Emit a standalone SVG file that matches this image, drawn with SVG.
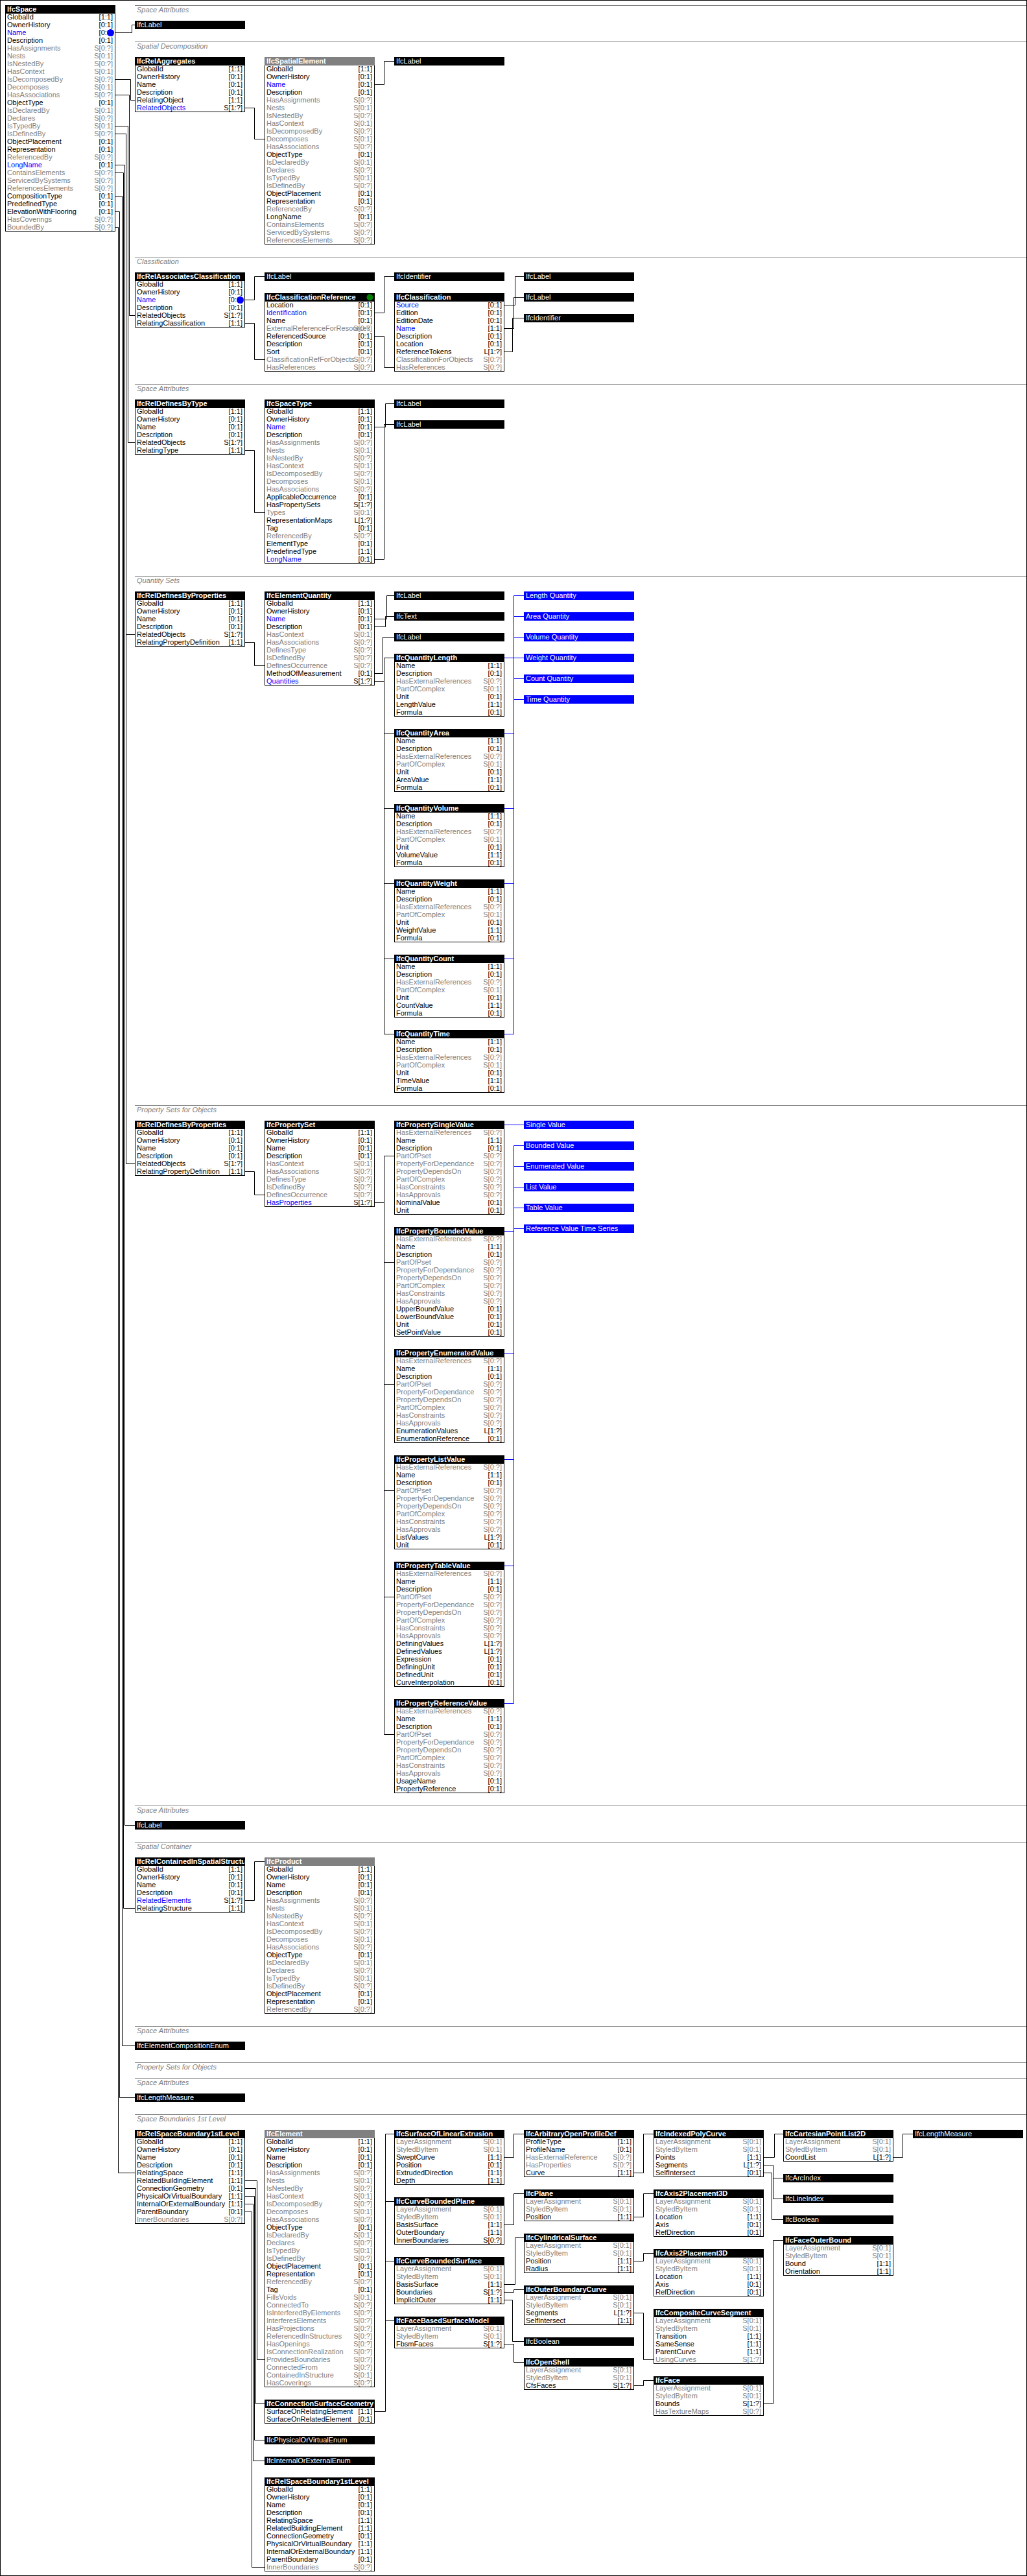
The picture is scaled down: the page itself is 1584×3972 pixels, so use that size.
<svg xmlns="http://www.w3.org/2000/svg" width="1584" height="3972" viewBox="0 0 1584 3972">
<style>
text{font-family:"Liberation Sans",Arial,sans-serif;font-size:11px;fill:#000}
.bx{fill:#fff;stroke:#000;stroke-width:1}
.hd{fill:#000}
.ha{fill:#808080}
.bl{fill:#0000ff}
.ht{fill:#fff;font-weight:bold}
.tt{fill:#fff}
.u{fill:#0000ff}
.g{fill:#808080}
.c{text-anchor:end}
.sl{stroke:#808080;stroke-width:1;fill:none}
.st{fill:#808080;font-style:italic}
#connectors path{fill:none;stroke:#000;stroke-width:1}
#connectors path.b{stroke:#0000ff}
</style>
<defs><clipPath id="clipH"><rect x="0" y="0" width="169" height="13"/></clipPath></defs>
<rect x="0" y="0" width="1584" height="3972" fill="#fff"/>
<rect x="0.5" y="0.5" width="1583" height="3971" fill="none" stroke="#000"/>
<g id="sections">
<path class="sl" d="M208 8.5H1583M208 64.5H1583M208 396.5H1583M208 592.5H1583M208 888.5H1583M208 1704.5H1583M208 2784.5H1583M208 2840.5H1583M208 3124.5H1583M208 3180.5H1583M208 3204.5H1583M208 3260.5H1583"/>
<text class="st" x="211" y="19">Space Attributes</text>
<text class="st" x="211" y="75">Spatial Decomposition</text>
<text class="st" x="211" y="407">Classification</text>
<text class="st" x="211" y="603">Space Attributes</text>
<text class="st" x="211" y="899">Quantity Sets</text>
<text class="st" x="211" y="1715">Property Sets for Objects</text>
<text class="st" x="211" y="2795">Space Attributes</text>
<text class="st" x="211" y="2851">Spatial Container</text>
<text class="st" x="211" y="3135">Space Attributes</text>
<text class="st" x="211" y="3191">Property Sets for Objects</text>
<text class="st" x="211" y="3215">Space Attributes</text>
<text class="st" x="211" y="3271">Space Boundaries 1st Level</text>
</g>
<g id="connectors">
<path d="M178 50.5H203.5V38.5H208"/>
<path d="M178 122.5H201.5V154.5H208"/>
<path d="M178 146.5H199.5V486.5H208"/>
<path d="M178 194.5H197.5V682.5H208"/>
<path d="M178 206.5H194.5V1794.5H208M194.5 978.5H208"/>
<path d="M178 254.5H192.5V2814.5H208"/>
<path d="M178 266.5H190.5V2942.5H208"/>
<path d="M178 302.5H188.5V3154.5H208"/>
<path d="M178 326.5H184.5V3234.5H208"/>
<path d="M178 350.5H182.5V3350.5H208"/>
<path d="M378 166.5H392.5V214.5H408"/>
<path d="M578 130.5H592.5V94.5H608"/>
<path d="M378 462.5H392.5V426.5H408"/>
<path d="M378 498.5H392.5V554.5H408"/>
<path d="M578 482.5H592.5V426.5H608"/>
<path d="M578 518.5H592.5V566.5H608"/>
<path d="M778 470.5H794.5V426.5H808"/>
<path d="M778 506.5H792.5V458.5H808"/>
<path d="M778 542.5H790.5V490.5H808"/>
<path d="M378 694.5H392.5V790.5H408"/>
<path d="M578 658.5H594.5V622.5H608"/>
<path d="M578 862.5H592.5V654.5H608"/>
<path d="M378 990.5H392.5V1026.5H408"/>
<path d="M578 954.5H596.5V918.5H608"/>
<path d="M578 966.5H594.5V950.5H608"/>
<path d="M578 1038.5H590.5V982.5H608"/>
<path d="M578 1050.5H592.5M592.5 1014.5V1594.5M592.5 1014.5H608M592.5 1130.5H608M592.5 1246.5H608M592.5 1362.5H608M592.5 1478.5H608M592.5 1594.5H608"/>
<path class="b" d="M792.5 918.5V1594.5M792.5 918.5H808M792.5 950.5H808M792.5 982.5H808M778 1014.5H808M792.5 1046.5H808M792.5 1078.5H808M778 1130.5H792.5M778 1246.5H792.5M778 1362.5H792.5M778 1478.5H792.5M778 1594.5H792.5"/>
<path d="M378 1806.5H392.5V1842.5H408"/>
<path d="M578 1854.5H592.5M592.5 1782.5V2674.5M592.5 1782.5H608M592.5 1946.5H608M592.5 2134.5H608M592.5 2298.5H608M592.5 2462.5H608M592.5 2674.5H608"/>
<path class="b" d="M778 1734.5H808M792.5 1766.5V2626.5M792.5 1766.5H808M792.5 1798.5H808M792.5 1830.5H808M792.5 1862.5H808M792.5 1894.5H808M778 1898.5H792.5M778 2086.5H792.5M778 2250.5H792.5M778 2414.5H792.5M778 2626.5H792.5"/>
<path d="M378 2930.5H392.5V2870.5H408"/>
<path d="M378 3362.5H396.5V3638.5H408"/>
<path d="M378 3374.5H394.5V3706.5H408"/>
<path d="M378 3386.5H392.5V3762.5H408"/>
<path d="M378 3398.5H390.5V3794.5H408"/>
<path d="M378 3410.5H388.5V3958.5H408"/>
<path d="M578 3718.5H594.5V3290.5H608M594.5 3394.5H608M594.5 3486.5H608M594.5 3578.5H608"/>
<path d="M778 3326.5H792.5V3290.5H808"/>
<path d="M778 3430.5H792.5V3382.5H808"/>
<path d="M778 3522.5H794.5V3450.5H808"/>
<path d="M778 3534.5H792.5V3530.5H808"/>
<path d="M778 3546.5H790.5V3610.5H808"/>
<path d="M778 3614.5H792.5V3642.5H808"/>
<path d="M978 3350.5H992.5V3290.5H1008"/>
<path d="M978 3418.5H992.5V3382.5H1008"/>
<path d="M978 3486.5H992.5V3474.5H1008"/>
<path d="M978 3566.5H992.5V3638.5H1008"/>
<path d="M978 3678.5H992.5V3670.5H1008"/>
<path d="M1178 3326.5H1194.5V3290.5H1208"/>
<path d="M1178 3338.5H1192.5V3390.5H1208M1192.5 3358.5H1208"/>
<path d="M1178 3350.5H1190.5V3422.5H1208"/>
<path d="M1178 3706.5H1192.5V3454.5H1208"/>
<path d="M1378 3326.5H1392.5V3290.5H1408"/>
</g>

<g id="IfcSpace" transform="translate(8,8)"><rect class="bx" x="0.5" y="0.5" width="169" height="348"/><rect class="hd" width="170" height="13"/><text class="ht" x="3" y="10">IfcSpace</text>
<text x="3" y="22">GlobalId</text><text class="c" x="166" y="22">[1:1]</text>
<text x="3" y="34">OwnerHistory</text><text class="c" x="166" y="34">[0:1]</text>
<text class="u" x="3" y="46">Name</text><text class="c" x="166" y="46">[0:1]</text>
<text x="3" y="58">Description</text><text class="c" x="166" y="58">[0:1]</text>
<text class="g" x="3" y="70">HasAssignments</text><text class="g c" x="166" y="70">S[0:?]</text>
<text class="g" x="3" y="82">Nests</text><text class="g c" x="166" y="82">S[0:1]</text>
<text class="g" x="3" y="94">IsNestedBy</text><text class="g c" x="166" y="94">S[0:?]</text>
<text class="g" x="3" y="106">HasContext</text><text class="g c" x="166" y="106">S[0:1]</text>
<text class="g" x="3" y="118">IsDecomposedBy</text><text class="g c" x="166" y="118">S[0:?]</text>
<text class="g" x="3" y="130">Decomposes</text><text class="g c" x="166" y="130">S[0:1]</text>
<text class="g" x="3" y="142">HasAssociations</text><text class="g c" x="166" y="142">S[0:?]</text>
<text x="3" y="154">ObjectType</text><text class="c" x="166" y="154">[0:1]</text>
<text class="g" x="3" y="166">IsDeclaredBy</text><text class="g c" x="166" y="166">S[0:1]</text>
<text class="g" x="3" y="178">Declares</text><text class="g c" x="166" y="178">S[0:?]</text>
<text class="g" x="3" y="190">IsTypedBy</text><text class="g c" x="166" y="190">S[0:1]</text>
<text class="g" x="3" y="202">IsDefinedBy</text><text class="g c" x="166" y="202">S[0:?]</text>
<text x="3" y="214">ObjectPlacement</text><text class="c" x="166" y="214">[0:1]</text>
<text x="3" y="226">Representation</text><text class="c" x="166" y="226">[0:1]</text>
<text class="g" x="3" y="238">ReferencedBy</text><text class="g c" x="166" y="238">S[0:?]</text>
<text class="u" x="3" y="250">LongName</text><text class="c" x="166" y="250">[0:1]</text>
<text class="g" x="3" y="262">ContainsElements</text><text class="g c" x="166" y="262">S[0:?]</text>
<text class="g" x="3" y="274">ServicedBySystems</text><text class="g c" x="166" y="274">S[0:?]</text>
<text class="g" x="3" y="286">ReferencesElements</text><text class="g c" x="166" y="286">S[0:?]</text>
<text x="3" y="298">CompositionType</text><text class="c" x="166" y="298">[0:1]</text>
<text x="3" y="310">PredefinedType</text><text class="c" x="166" y="310">[0:1]</text>
<text x="3" y="322">ElevationWithFlooring</text><text class="c" x="166" y="322">[0:1]</text>
<text class="g" x="3" y="334">HasCoverings</text><text class="g c" x="166" y="334">S[0:?]</text>
<text class="g" x="3" y="346">BoundedBy</text><text class="g c" x="166" y="346">S[0:?]</text>
<circle cx="162.5" cy="42.5" r="5.5" fill="#0000ff"/>
</g>

<g id="s1-IfcLabel" transform="translate(208,32)"><rect class="hd" width="170" height="13"/><text class="tt" x="3" y="10">IfcLabel</text></g>

<g id="s2-IfcRelAggregates" transform="translate(208,88)"><rect class="bx" x="0.5" y="0.5" width="169" height="84"/><rect class="hd" width="170" height="13"/><text class="ht" x="3" y="10">IfcRelAggregates</text>
<text x="3" y="22">GlobalId</text><text class="c" x="166" y="22">[1:1]</text>
<text x="3" y="34">OwnerHistory</text><text class="c" x="166" y="34">[0:1]</text>
<text x="3" y="46">Name</text><text class="c" x="166" y="46">[0:1]</text>
<text x="3" y="58">Description</text><text class="c" x="166" y="58">[0:1]</text>
<text x="3" y="70">RelatingObject</text><text class="c" x="166" y="70">[1:1]</text>
<text class="u" x="3" y="82">RelatedObjects</text><text class="c" x="166" y="82">S[1:?]</text>
</g>

<g id="s2-IfcSpatialElement" transform="translate(408,88)"><rect class="bx" x="0.5" y="0.5" width="169" height="288"/><rect class="ha" width="170" height="13"/><text class="ht" x="3" y="10">IfcSpatialElement</text>
<text x="3" y="22">GlobalId</text><text class="c" x="166" y="22">[1:1]</text>
<text x="3" y="34">OwnerHistory</text><text class="c" x="166" y="34">[0:1]</text>
<text class="u" x="3" y="46">Name</text><text class="c" x="166" y="46">[0:1]</text>
<text x="3" y="58">Description</text><text class="c" x="166" y="58">[0:1]</text>
<text class="g" x="3" y="70">HasAssignments</text><text class="g c" x="166" y="70">S[0:?]</text>
<text class="g" x="3" y="82">Nests</text><text class="g c" x="166" y="82">S[0:1]</text>
<text class="g" x="3" y="94">IsNestedBy</text><text class="g c" x="166" y="94">S[0:?]</text>
<text class="g" x="3" y="106">HasContext</text><text class="g c" x="166" y="106">S[0:1]</text>
<text class="g" x="3" y="118">IsDecomposedBy</text><text class="g c" x="166" y="118">S[0:?]</text>
<text class="g" x="3" y="130">Decomposes</text><text class="g c" x="166" y="130">S[0:1]</text>
<text class="g" x="3" y="142">HasAssociations</text><text class="g c" x="166" y="142">S[0:?]</text>
<text x="3" y="154">ObjectType</text><text class="c" x="166" y="154">[0:1]</text>
<text class="g" x="3" y="166">IsDeclaredBy</text><text class="g c" x="166" y="166">S[0:1]</text>
<text class="g" x="3" y="178">Declares</text><text class="g c" x="166" y="178">S[0:?]</text>
<text class="g" x="3" y="190">IsTypedBy</text><text class="g c" x="166" y="190">S[0:1]</text>
<text class="g" x="3" y="202">IsDefinedBy</text><text class="g c" x="166" y="202">S[0:?]</text>
<text x="3" y="214">ObjectPlacement</text><text class="c" x="166" y="214">[0:1]</text>
<text x="3" y="226">Representation</text><text class="c" x="166" y="226">[0:1]</text>
<text class="g" x="3" y="238">ReferencedBy</text><text class="g c" x="166" y="238">S[0:?]</text>
<text x="3" y="250">LongName</text><text class="c" x="166" y="250">[0:1]</text>
<text class="g" x="3" y="262">ContainsElements</text><text class="g c" x="166" y="262">S[0:?]</text>
<text class="g" x="3" y="274">ServicedBySystems</text><text class="g c" x="166" y="274">S[0:?]</text>
<text class="g" x="3" y="286">ReferencesElements</text><text class="g c" x="166" y="286">S[0:?]</text>
</g>

<g id="s2-IfcLabel" transform="translate(608,88)"><rect class="hd" width="170" height="13"/><text class="tt" x="3" y="10">IfcLabel</text></g>

<g id="s3-IfcRelAssociatesClassification" transform="translate(208,420)"><rect class="bx" x="0.5" y="0.5" width="169" height="84"/><rect class="hd" width="170" height="13"/><text class="ht" x="3" y="10">IfcRelAssociatesClassification</text>
<text x="3" y="22">GlobalId</text><text class="c" x="166" y="22">[1:1]</text>
<text x="3" y="34">OwnerHistory</text><text class="c" x="166" y="34">[0:1]</text>
<text class="u" x="3" y="46">Name</text><text class="c" x="166" y="46">[0:1]</text>
<text x="3" y="58">Description</text><text class="c" x="166" y="58">[0:1]</text>
<text x="3" y="70">RelatedObjects</text><text class="c" x="166" y="70">S[1:?]</text>
<text x="3" y="82">RelatingClassification</text><text class="c" x="166" y="82">[1:1]</text>
<circle cx="162.5" cy="42.5" r="5.5" fill="#0000ff"/>
</g>

<g id="s3-IfcLabel" transform="translate(408,420)"><rect class="hd" width="170" height="13"/><text class="tt" x="3" y="10">IfcLabel</text></g>

<g id="s3-IfcClassificationReference" transform="translate(408,452)"><rect class="bx" x="0.5" y="0.5" width="169" height="120"/><rect class="hd" width="170" height="13"/><text class="ht" x="3" y="10">IfcClassificationReference</text><circle cx="162.5" cy="6.5" r="5" fill="#008000"/>
<text x="3" y="22">Location</text><text class="c" x="166" y="22">[0:1]</text>
<text class="u" x="3" y="34">Identification</text><text class="c" x="166" y="34">[0:1]</text>
<text x="3" y="46">Name</text><text class="c" x="166" y="46">[0:1]</text>
<text class="g" x="3" y="58">ExternalReferenceForResources</text><text class="g c" x="166" y="58">S[0:?]</text>
<text x="3" y="70">ReferencedSource</text><text class="c" x="166" y="70">[0:1]</text>
<text x="3" y="82">Description</text><text class="c" x="166" y="82">[0:1]</text>
<text x="3" y="94">Sort</text><text class="c" x="166" y="94">[0:1]</text>
<text class="g" x="3" y="106">ClassificationRefForObjects</text><text class="g c" x="166" y="106">S[0:?]</text>
<text class="g" x="3" y="118">HasReferences</text><text class="g c" x="166" y="118">S[0:?]</text>
</g>

<g id="s3-IfcIdentifier" transform="translate(608,420)"><rect class="hd" width="170" height="13"/><text class="tt" x="3" y="10">IfcIdentifier</text></g>

<g id="s3-IfcClassification" transform="translate(608,452)"><rect class="bx" x="0.5" y="0.5" width="169" height="120"/><rect class="hd" width="170" height="13"/><text class="ht" x="3" y="10">IfcClassification</text>
<text class="u" x="3" y="22">Source</text><text class="c" x="166" y="22">[0:1]</text>
<text x="3" y="34">Edition</text><text class="c" x="166" y="34">[0:1]</text>
<text x="3" y="46">EditionDate</text><text class="c" x="166" y="46">[0:1]</text>
<text class="u" x="3" y="58">Name</text><text class="c" x="166" y="58">[1:1]</text>
<text x="3" y="70">Description</text><text class="c" x="166" y="70">[0:1]</text>
<text x="3" y="82">Location</text><text class="c" x="166" y="82">[0:1]</text>
<text x="3" y="94">ReferenceTokens</text><text class="c" x="166" y="94">L[1:?]</text>
<text class="g" x="3" y="106">ClassificationForObjects</text><text class="g c" x="166" y="106">S[0:?]</text>
<text class="g" x="3" y="118">HasReferences</text><text class="g c" x="166" y="118">S[0:?]</text>
</g>

<g id="s3-IfcLabel-a" transform="translate(808,420)"><rect class="hd" width="170" height="13"/><text class="tt" x="3" y="10">IfcLabel</text></g>
<g id="s3-IfcLabel-b" transform="translate(808,452)"><rect class="hd" width="170" height="13"/><text class="tt" x="3" y="10">IfcLabel</text></g>
<g id="s3-IfcIdentifier-b" transform="translate(808,484)"><rect class="hd" width="170" height="13"/><text class="tt" x="3" y="10">IfcIdentifier</text></g>

<g id="s4-IfcRelDefinesByType" transform="translate(208,616)"><rect class="bx" x="0.5" y="0.5" width="169" height="84"/><rect class="hd" width="170" height="13"/><text class="ht" x="3" y="10">IfcRelDefinesByType</text>
<text x="3" y="22">GlobalId</text><text class="c" x="166" y="22">[1:1]</text>
<text x="3" y="34">OwnerHistory</text><text class="c" x="166" y="34">[0:1]</text>
<text x="3" y="46">Name</text><text class="c" x="166" y="46">[0:1]</text>
<text x="3" y="58">Description</text><text class="c" x="166" y="58">[0:1]</text>
<text x="3" y="70">RelatedObjects</text><text class="c" x="166" y="70">S[1:?]</text>
<text x="3" y="82">RelatingType</text><text class="c" x="166" y="82">[1:1]</text>
</g>

<g id="s4-IfcSpaceType" transform="translate(408,616)"><rect class="bx" x="0.5" y="0.5" width="169" height="252"/><rect class="hd" width="170" height="13"/><text class="ht" x="3" y="10">IfcSpaceType</text>
<text x="3" y="22">GlobalId</text><text class="c" x="166" y="22">[1:1]</text>
<text x="3" y="34">OwnerHistory</text><text class="c" x="166" y="34">[0:1]</text>
<text class="u" x="3" y="46">Name</text><text class="c" x="166" y="46">[0:1]</text>
<text x="3" y="58">Description</text><text class="c" x="166" y="58">[0:1]</text>
<text class="g" x="3" y="70">HasAssignments</text><text class="g c" x="166" y="70">S[0:?]</text>
<text class="g" x="3" y="82">Nests</text><text class="g c" x="166" y="82">S[0:1]</text>
<text class="g" x="3" y="94">IsNestedBy</text><text class="g c" x="166" y="94">S[0:?]</text>
<text class="g" x="3" y="106">HasContext</text><text class="g c" x="166" y="106">S[0:1]</text>
<text class="g" x="3" y="118">IsDecomposedBy</text><text class="g c" x="166" y="118">S[0:?]</text>
<text class="g" x="3" y="130">Decomposes</text><text class="g c" x="166" y="130">S[0:1]</text>
<text class="g" x="3" y="142">HasAssociations</text><text class="g c" x="166" y="142">S[0:?]</text>
<text x="3" y="154">ApplicableOccurrence</text><text class="c" x="166" y="154">[0:1]</text>
<text x="3" y="166">HasPropertySets</text><text class="c" x="166" y="166">S[1:?]</text>
<text class="g" x="3" y="178">Types</text><text class="g c" x="166" y="178">S[0:1]</text>
<text x="3" y="190">RepresentationMaps</text><text class="c" x="166" y="190">L[1:?]</text>
<text x="3" y="202">Tag</text><text class="c" x="166" y="202">[0:1]</text>
<text class="g" x="3" y="214">ReferencedBy</text><text class="g c" x="166" y="214">S[0:?]</text>
<text x="3" y="226">ElementType</text><text class="c" x="166" y="226">[0:1]</text>
<text x="3" y="238">PredefinedType</text><text class="c" x="166" y="238">[1:1]</text>
<text class="u" x="3" y="250">LongName</text><text class="c" x="166" y="250">[0:1]</text>
</g>

<g id="s4-IfcLabel-a" transform="translate(608,616)"><rect class="hd" width="170" height="13"/><text class="tt" x="3" y="10">IfcLabel</text></g>
<g id="s4-IfcLabel-b" transform="translate(608,648)"><rect class="hd" width="170" height="13"/><text class="tt" x="3" y="10">IfcLabel</text></g>

<g id="s5-IfcRelDefinesByProperties" transform="translate(208,912)"><rect class="bx" x="0.5" y="0.5" width="169" height="84"/><rect class="hd" width="170" height="13"/><text class="ht" x="3" y="10">IfcRelDefinesByProperties</text>
<text x="3" y="22">GlobalId</text><text class="c" x="166" y="22">[1:1]</text>
<text x="3" y="34">OwnerHistory</text><text class="c" x="166" y="34">[0:1]</text>
<text x="3" y="46">Name</text><text class="c" x="166" y="46">[0:1]</text>
<text x="3" y="58">Description</text><text class="c" x="166" y="58">[0:1]</text>
<text x="3" y="70">RelatedObjects</text><text class="c" x="166" y="70">S[1:?]</text>
<text x="3" y="82">RelatingPropertyDefinition</text><text class="c" x="166" y="82">[1:1]</text>
</g>

<g id="s5-IfcElementQuantity" transform="translate(408,912)"><rect class="bx" x="0.5" y="0.5" width="169" height="144"/><rect class="hd" width="170" height="13"/><text class="ht" x="3" y="10">IfcElementQuantity</text>
<text x="3" y="22">GlobalId</text><text class="c" x="166" y="22">[1:1]</text>
<text x="3" y="34">OwnerHistory</text><text class="c" x="166" y="34">[0:1]</text>
<text class="u" x="3" y="46">Name</text><text class="c" x="166" y="46">[0:1]</text>
<text x="3" y="58">Description</text><text class="c" x="166" y="58">[0:1]</text>
<text class="g" x="3" y="70">HasContext</text><text class="g c" x="166" y="70">S[0:1]</text>
<text class="g" x="3" y="82">HasAssociations</text><text class="g c" x="166" y="82">S[0:?]</text>
<text class="g" x="3" y="94">DefinesType</text><text class="g c" x="166" y="94">S[0:?]</text>
<text class="g" x="3" y="106">IsDefinedBy</text><text class="g c" x="166" y="106">S[0:?]</text>
<text class="g" x="3" y="118">DefinesOccurrence</text><text class="g c" x="166" y="118">S[0:?]</text>
<text x="3" y="130">MethodOfMeasurement</text><text class="c" x="166" y="130">[0:1]</text>
<text class="u" x="3" y="142">Quantities</text><text class="c" x="166" y="142">S[1:?]</text>
</g>

<g id="s5-IfcLabel-a" transform="translate(608,912)"><rect class="hd" width="170" height="13"/><text class="tt" x="3" y="10">IfcLabel</text></g>
<g id="s5-IfcText" transform="translate(608,944)"><rect class="hd" width="170" height="13"/><text class="tt" x="3" y="10">IfcText</text></g>
<g id="s5-IfcLabel-b" transform="translate(608,976)"><rect class="hd" width="170" height="13"/><text class="tt" x="3" y="10">IfcLabel</text></g>

<g id="s5-IfcQuantityLength" transform="translate(608,1008)"><rect class="bx" x="0.5" y="0.5" width="169" height="96"/><rect class="hd" width="170" height="13"/><text class="ht" x="3" y="10">IfcQuantityLength</text>
<text x="3" y="22">Name</text><text class="c" x="166" y="22">[1:1]</text>
<text x="3" y="34">Description</text><text class="c" x="166" y="34">[0:1]</text>
<text class="g" x="3" y="46">HasExternalReferences</text><text class="g c" x="166" y="46">S[0:?]</text>
<text class="g" x="3" y="58">PartOfComplex</text><text class="g c" x="166" y="58">S[0:1]</text>
<text x="3" y="70">Unit</text><text class="c" x="166" y="70">[0:1]</text>
<text x="3" y="82">LengthValue</text><text class="c" x="166" y="82">[1:1]</text>
<text x="3" y="94">Formula</text><text class="c" x="166" y="94">[0:1]</text>
</g>
<g id="s5-IfcQuantityArea" transform="translate(608,1124)"><rect class="bx" x="0.5" y="0.5" width="169" height="96"/><rect class="hd" width="170" height="13"/><text class="ht" x="3" y="10">IfcQuantityArea</text>
<text x="3" y="22">Name</text><text class="c" x="166" y="22">[1:1]</text>
<text x="3" y="34">Description</text><text class="c" x="166" y="34">[0:1]</text>
<text class="g" x="3" y="46">HasExternalReferences</text><text class="g c" x="166" y="46">S[0:?]</text>
<text class="g" x="3" y="58">PartOfComplex</text><text class="g c" x="166" y="58">S[0:1]</text>
<text x="3" y="70">Unit</text><text class="c" x="166" y="70">[0:1]</text>
<text x="3" y="82">AreaValue</text><text class="c" x="166" y="82">[1:1]</text>
<text x="3" y="94">Formula</text><text class="c" x="166" y="94">[0:1]</text>
</g>
<g id="s5-IfcQuantityVolume" transform="translate(608,1240)"><rect class="bx" x="0.5" y="0.5" width="169" height="96"/><rect class="hd" width="170" height="13"/><text class="ht" x="3" y="10">IfcQuantityVolume</text>
<text x="3" y="22">Name</text><text class="c" x="166" y="22">[1:1]</text>
<text x="3" y="34">Description</text><text class="c" x="166" y="34">[0:1]</text>
<text class="g" x="3" y="46">HasExternalReferences</text><text class="g c" x="166" y="46">S[0:?]</text>
<text class="g" x="3" y="58">PartOfComplex</text><text class="g c" x="166" y="58">S[0:1]</text>
<text x="3" y="70">Unit</text><text class="c" x="166" y="70">[0:1]</text>
<text x="3" y="82">VolumeValue</text><text class="c" x="166" y="82">[1:1]</text>
<text x="3" y="94">Formula</text><text class="c" x="166" y="94">[0:1]</text>
</g>
<g id="s5-IfcQuantityWeight" transform="translate(608,1356)"><rect class="bx" x="0.5" y="0.5" width="169" height="96"/><rect class="hd" width="170" height="13"/><text class="ht" x="3" y="10">IfcQuantityWeight</text>
<text x="3" y="22">Name</text><text class="c" x="166" y="22">[1:1]</text>
<text x="3" y="34">Description</text><text class="c" x="166" y="34">[0:1]</text>
<text class="g" x="3" y="46">HasExternalReferences</text><text class="g c" x="166" y="46">S[0:?]</text>
<text class="g" x="3" y="58">PartOfComplex</text><text class="g c" x="166" y="58">S[0:1]</text>
<text x="3" y="70">Unit</text><text class="c" x="166" y="70">[0:1]</text>
<text x="3" y="82">WeightValue</text><text class="c" x="166" y="82">[1:1]</text>
<text x="3" y="94">Formula</text><text class="c" x="166" y="94">[0:1]</text>
</g>
<g id="s5-IfcQuantityCount" transform="translate(608,1472)"><rect class="bx" x="0.5" y="0.5" width="169" height="96"/><rect class="hd" width="170" height="13"/><text class="ht" x="3" y="10">IfcQuantityCount</text>
<text x="3" y="22">Name</text><text class="c" x="166" y="22">[1:1]</text>
<text x="3" y="34">Description</text><text class="c" x="166" y="34">[0:1]</text>
<text class="g" x="3" y="46">HasExternalReferences</text><text class="g c" x="166" y="46">S[0:?]</text>
<text class="g" x="3" y="58">PartOfComplex</text><text class="g c" x="166" y="58">S[0:1]</text>
<text x="3" y="70">Unit</text><text class="c" x="166" y="70">[0:1]</text>
<text x="3" y="82">CountValue</text><text class="c" x="166" y="82">[1:1]</text>
<text x="3" y="94">Formula</text><text class="c" x="166" y="94">[0:1]</text>
</g>
<g id="s5-IfcQuantityTime" transform="translate(608,1588)"><rect class="bx" x="0.5" y="0.5" width="169" height="96"/><rect class="hd" width="170" height="13"/><text class="ht" x="3" y="10">IfcQuantityTime</text>
<text x="3" y="22">Name</text><text class="c" x="166" y="22">[1:1]</text>
<text x="3" y="34">Description</text><text class="c" x="166" y="34">[0:1]</text>
<text class="g" x="3" y="46">HasExternalReferences</text><text class="g c" x="166" y="46">S[0:?]</text>
<text class="g" x="3" y="58">PartOfComplex</text><text class="g c" x="166" y="58">S[0:1]</text>
<text x="3" y="70">Unit</text><text class="c" x="166" y="70">[0:1]</text>
<text x="3" y="82">TimeValue</text><text class="c" x="166" y="82">[1:1]</text>
<text x="3" y="94">Formula</text><text class="c" x="166" y="94">[0:1]</text>
</g>

<g id="s5-LengthQuantity" transform="translate(808,912)"><rect class="bl" width="170" height="13"/><text class="tt" x="3" y="10">Length Quantity</text></g>
<g id="s5-AreaQuantity" transform="translate(808,944)"><rect class="bl" width="170" height="13"/><text class="tt" x="3" y="10">Area Quantity</text></g>
<g id="s5-VolumeQuantity" transform="translate(808,976)"><rect class="bl" width="170" height="13"/><text class="tt" x="3" y="10">Volume Quantity</text></g>
<g id="s5-WeightQuantity" transform="translate(808,1008)"><rect class="bl" width="170" height="13"/><text class="tt" x="3" y="10">Weight Quantity</text></g>
<g id="s5-CountQuantity" transform="translate(808,1040)"><rect class="bl" width="170" height="13"/><text class="tt" x="3" y="10">Count Quantity</text></g>
<g id="s5-TimeQuantity" transform="translate(808,1072)"><rect class="bl" width="170" height="13"/><text class="tt" x="3" y="10">Time Quantity</text></g>

<g id="s6-IfcRelDefinesByProperties" transform="translate(208,1728)"><rect class="bx" x="0.5" y="0.5" width="169" height="84"/><rect class="hd" width="170" height="13"/><text class="ht" x="3" y="10">IfcRelDefinesByProperties</text>
<text x="3" y="22">GlobalId</text><text class="c" x="166" y="22">[1:1]</text>
<text x="3" y="34">OwnerHistory</text><text class="c" x="166" y="34">[0:1]</text>
<text x="3" y="46">Name</text><text class="c" x="166" y="46">[0:1]</text>
<text x="3" y="58">Description</text><text class="c" x="166" y="58">[0:1]</text>
<text x="3" y="70">RelatedObjects</text><text class="c" x="166" y="70">S[1:?]</text>
<text x="3" y="82">RelatingPropertyDefinition</text><text class="c" x="166" y="82">[1:1]</text>
</g>

<g id="s6-IfcPropertySet" transform="translate(408,1728)"><rect class="bx" x="0.5" y="0.5" width="169" height="132"/><rect class="hd" width="170" height="13"/><text class="ht" x="3" y="10">IfcPropertySet</text>
<text x="3" y="22">GlobalId</text><text class="c" x="166" y="22">[1:1]</text>
<text x="3" y="34">OwnerHistory</text><text class="c" x="166" y="34">[0:1]</text>
<text x="3" y="46">Name</text><text class="c" x="166" y="46">[0:1]</text>
<text x="3" y="58">Description</text><text class="c" x="166" y="58">[0:1]</text>
<text class="g" x="3" y="70">HasContext</text><text class="g c" x="166" y="70">S[0:1]</text>
<text class="g" x="3" y="82">HasAssociations</text><text class="g c" x="166" y="82">S[0:?]</text>
<text class="g" x="3" y="94">DefinesType</text><text class="g c" x="166" y="94">S[0:?]</text>
<text class="g" x="3" y="106">IsDefinedBy</text><text class="g c" x="166" y="106">S[0:?]</text>
<text class="g" x="3" y="118">DefinesOccurrence</text><text class="g c" x="166" y="118">S[0:?]</text>
<text class="u" x="3" y="130">HasProperties</text><text class="c" x="166" y="130">S[1:?]</text>
</g>

<g id="s6-IfcPropertySingleValue" transform="translate(608,1728)"><rect class="bx" x="0.5" y="0.5" width="169" height="144"/><rect class="hd" width="170" height="13"/><text class="ht" x="3" y="10">IfcPropertySingleValue</text>
<text class="g" x="3" y="22">HasExternalReferences</text><text class="g c" x="166" y="22">S[0:?]</text>
<text x="3" y="34">Name</text><text class="c" x="166" y="34">[1:1]</text>
<text x="3" y="46">Description</text><text class="c" x="166" y="46">[0:1]</text>
<text class="g" x="3" y="58">PartOfPset</text><text class="g c" x="166" y="58">S[0:?]</text>
<text class="g" x="3" y="70">PropertyForDependance</text><text class="g c" x="166" y="70">S[0:?]</text>
<text class="g" x="3" y="82">PropertyDependsOn</text><text class="g c" x="166" y="82">S[0:?]</text>
<text class="g" x="3" y="94">PartOfComplex</text><text class="g c" x="166" y="94">S[0:?]</text>
<text class="g" x="3" y="106">HasConstraints</text><text class="g c" x="166" y="106">S[0:?]</text>
<text class="g" x="3" y="118">HasApprovals</text><text class="g c" x="166" y="118">S[0:?]</text>
<text x="3" y="130">NominalValue</text><text class="c" x="166" y="130">[0:1]</text>
<text x="3" y="142">Unit</text><text class="c" x="166" y="142">[0:1]</text>
</g>

<g id="s6-IfcPropertyBoundedValue" transform="translate(608,1892)"><rect class="bx" x="0.5" y="0.5" width="169" height="168"/><rect class="hd" width="170" height="13"/><text class="ht" x="3" y="10">IfcPropertyBoundedValue</text>
<text class="g" x="3" y="22">HasExternalReferences</text><text class="g c" x="166" y="22">S[0:?]</text>
<text x="3" y="34">Name</text><text class="c" x="166" y="34">[1:1]</text>
<text x="3" y="46">Description</text><text class="c" x="166" y="46">[0:1]</text>
<text class="g" x="3" y="58">PartOfPset</text><text class="g c" x="166" y="58">S[0:?]</text>
<text class="g" x="3" y="70">PropertyForDependance</text><text class="g c" x="166" y="70">S[0:?]</text>
<text class="g" x="3" y="82">PropertyDependsOn</text><text class="g c" x="166" y="82">S[0:?]</text>
<text class="g" x="3" y="94">PartOfComplex</text><text class="g c" x="166" y="94">S[0:?]</text>
<text class="g" x="3" y="106">HasConstraints</text><text class="g c" x="166" y="106">S[0:?]</text>
<text class="g" x="3" y="118">HasApprovals</text><text class="g c" x="166" y="118">S[0:?]</text>
<text x="3" y="130">UpperBoundValue</text><text class="c" x="166" y="130">[0:1]</text>
<text x="3" y="142">LowerBoundValue</text><text class="c" x="166" y="142">[0:1]</text>
<text x="3" y="154">Unit</text><text class="c" x="166" y="154">[0:1]</text>
<text x="3" y="166">SetPointValue</text><text class="c" x="166" y="166">[0:1]</text>
</g>

<g id="s6-IfcPropertyEnumeratedValue" transform="translate(608,2080)"><rect class="bx" x="0.5" y="0.5" width="169" height="144"/><rect class="hd" width="170" height="13"/><text class="ht" x="3" y="10">IfcPropertyEnumeratedValue</text>
<text class="g" x="3" y="22">HasExternalReferences</text><text class="g c" x="166" y="22">S[0:?]</text>
<text x="3" y="34">Name</text><text class="c" x="166" y="34">[1:1]</text>
<text x="3" y="46">Description</text><text class="c" x="166" y="46">[0:1]</text>
<text class="g" x="3" y="58">PartOfPset</text><text class="g c" x="166" y="58">S[0:?]</text>
<text class="g" x="3" y="70">PropertyForDependance</text><text class="g c" x="166" y="70">S[0:?]</text>
<text class="g" x="3" y="82">PropertyDependsOn</text><text class="g c" x="166" y="82">S[0:?]</text>
<text class="g" x="3" y="94">PartOfComplex</text><text class="g c" x="166" y="94">S[0:?]</text>
<text class="g" x="3" y="106">HasConstraints</text><text class="g c" x="166" y="106">S[0:?]</text>
<text class="g" x="3" y="118">HasApprovals</text><text class="g c" x="166" y="118">S[0:?]</text>
<text x="3" y="130">EnumerationValues</text><text class="c" x="166" y="130">L[1:?]</text>
<text x="3" y="142">EnumerationReference</text><text class="c" x="166" y="142">[0:1]</text>
</g>

<g id="s6-IfcPropertyListValue" transform="translate(608,2244)"><rect class="bx" x="0.5" y="0.5" width="169" height="144"/><rect class="hd" width="170" height="13"/><text class="ht" x="3" y="10">IfcPropertyListValue</text>
<text class="g" x="3" y="22">HasExternalReferences</text><text class="g c" x="166" y="22">S[0:?]</text>
<text x="3" y="34">Name</text><text class="c" x="166" y="34">[1:1]</text>
<text x="3" y="46">Description</text><text class="c" x="166" y="46">[0:1]</text>
<text class="g" x="3" y="58">PartOfPset</text><text class="g c" x="166" y="58">S[0:?]</text>
<text class="g" x="3" y="70">PropertyForDependance</text><text class="g c" x="166" y="70">S[0:?]</text>
<text class="g" x="3" y="82">PropertyDependsOn</text><text class="g c" x="166" y="82">S[0:?]</text>
<text class="g" x="3" y="94">PartOfComplex</text><text class="g c" x="166" y="94">S[0:?]</text>
<text class="g" x="3" y="106">HasConstraints</text><text class="g c" x="166" y="106">S[0:?]</text>
<text class="g" x="3" y="118">HasApprovals</text><text class="g c" x="166" y="118">S[0:?]</text>
<text x="3" y="130">ListValues</text><text class="c" x="166" y="130">L[1:?]</text>
<text x="3" y="142">Unit</text><text class="c" x="166" y="142">[0:1]</text>
</g>

<g id="s6-IfcPropertyTableValue" transform="translate(608,2408)"><rect class="bx" x="0.5" y="0.5" width="169" height="192"/><rect class="hd" width="170" height="13"/><text class="ht" x="3" y="10">IfcPropertyTableValue</text>
<text class="g" x="3" y="22">HasExternalReferences</text><text class="g c" x="166" y="22">S[0:?]</text>
<text x="3" y="34">Name</text><text class="c" x="166" y="34">[1:1]</text>
<text x="3" y="46">Description</text><text class="c" x="166" y="46">[0:1]</text>
<text class="g" x="3" y="58">PartOfPset</text><text class="g c" x="166" y="58">S[0:?]</text>
<text class="g" x="3" y="70">PropertyForDependance</text><text class="g c" x="166" y="70">S[0:?]</text>
<text class="g" x="3" y="82">PropertyDependsOn</text><text class="g c" x="166" y="82">S[0:?]</text>
<text class="g" x="3" y="94">PartOfComplex</text><text class="g c" x="166" y="94">S[0:?]</text>
<text class="g" x="3" y="106">HasConstraints</text><text class="g c" x="166" y="106">S[0:?]</text>
<text class="g" x="3" y="118">HasApprovals</text><text class="g c" x="166" y="118">S[0:?]</text>
<text x="3" y="130">DefiningValues</text><text class="c" x="166" y="130">L[1:?]</text>
<text x="3" y="142">DefinedValues</text><text class="c" x="166" y="142">L[1:?]</text>
<text x="3" y="154">Expression</text><text class="c" x="166" y="154">[0:1]</text>
<text x="3" y="166">DefiningUnit</text><text class="c" x="166" y="166">[0:1]</text>
<text x="3" y="178">DefinedUnit</text><text class="c" x="166" y="178">[0:1]</text>
<text x="3" y="190">CurveInterpolation</text><text class="c" x="166" y="190">[0:1]</text>
</g>

<g id="s6-IfcPropertyReferenceValue" transform="translate(608,2620)"><rect class="bx" x="0.5" y="0.5" width="169" height="144"/><rect class="hd" width="170" height="13"/><text class="ht" x="3" y="10">IfcPropertyReferenceValue</text>
<text class="g" x="3" y="22">HasExternalReferences</text><text class="g c" x="166" y="22">S[0:?]</text>
<text x="3" y="34">Name</text><text class="c" x="166" y="34">[1:1]</text>
<text x="3" y="46">Description</text><text class="c" x="166" y="46">[0:1]</text>
<text class="g" x="3" y="58">PartOfPset</text><text class="g c" x="166" y="58">S[0:?]</text>
<text class="g" x="3" y="70">PropertyForDependance</text><text class="g c" x="166" y="70">S[0:?]</text>
<text class="g" x="3" y="82">PropertyDependsOn</text><text class="g c" x="166" y="82">S[0:?]</text>
<text class="g" x="3" y="94">PartOfComplex</text><text class="g c" x="166" y="94">S[0:?]</text>
<text class="g" x="3" y="106">HasConstraints</text><text class="g c" x="166" y="106">S[0:?]</text>
<text class="g" x="3" y="118">HasApprovals</text><text class="g c" x="166" y="118">S[0:?]</text>
<text x="3" y="130">UsageName</text><text class="c" x="166" y="130">[0:1]</text>
<text x="3" y="142">PropertyReference</text><text class="c" x="166" y="142">[0:1]</text>
</g>

<g id="s6-SingleValue" transform="translate(808,1728)"><rect class="bl" width="170" height="13"/><text class="tt" x="3" y="10">Single Value</text></g>
<g id="s6-BoundedValue" transform="translate(808,1760)"><rect class="bl" width="170" height="13"/><text class="tt" x="3" y="10">Bounded Value</text></g>
<g id="s6-EnumeratedValue" transform="translate(808,1792)"><rect class="bl" width="170" height="13"/><text class="tt" x="3" y="10">Enumerated Value</text></g>
<g id="s6-ListValue" transform="translate(808,1824)"><rect class="bl" width="170" height="13"/><text class="tt" x="3" y="10">List Value</text></g>
<g id="s6-TableValue" transform="translate(808,1856)"><rect class="bl" width="170" height="13"/><text class="tt" x="3" y="10">Table Value</text></g>
<g id="s6-RefValueTimeSeries" transform="translate(808,1888)"><rect class="bl" width="170" height="13"/><text class="tt" x="3" y="10">Reference Value Time Series</text></g>

<g id="s7-IfcLabel" transform="translate(208,2808)"><rect class="hd" width="170" height="13"/><text class="tt" x="3" y="10">IfcLabel</text></g>

<g id="s8-IfcRelContainedInSpatialStructure" transform="translate(208,2864)"><rect class="bx" x="0.5" y="0.5" width="169" height="84"/><rect class="hd" width="170" height="13"/><text class="ht" x="3" y="10" clip-path="url(#clipH)">IfcRelContainedInSpatialStructure</text>
<text x="3" y="22">GlobalId</text><text class="c" x="166" y="22">[1:1]</text>
<text x="3" y="34">OwnerHistory</text><text class="c" x="166" y="34">[0:1]</text>
<text x="3" y="46">Name</text><text class="c" x="166" y="46">[0:1]</text>
<text x="3" y="58">Description</text><text class="c" x="166" y="58">[0:1]</text>
<text class="u" x="3" y="70">RelatedElements</text><text class="c" x="166" y="70">S[1:?]</text>
<text x="3" y="82">RelatingStructure</text><text class="c" x="166" y="82">[1:1]</text>
</g>

<g id="s8-IfcProduct" transform="translate(408,2864)"><rect class="bx" x="0.5" y="0.5" width="169" height="240"/><rect class="ha" width="170" height="13"/><text class="ht" x="3" y="10">IfcProduct</text>
<text x="3" y="22">GlobalId</text><text class="c" x="166" y="22">[1:1]</text>
<text x="3" y="34">OwnerHistory</text><text class="c" x="166" y="34">[0:1]</text>
<text x="3" y="46">Name</text><text class="c" x="166" y="46">[0:1]</text>
<text x="3" y="58">Description</text><text class="c" x="166" y="58">[0:1]</text>
<text class="g" x="3" y="70">HasAssignments</text><text class="g c" x="166" y="70">S[0:?]</text>
<text class="g" x="3" y="82">Nests</text><text class="g c" x="166" y="82">S[0:1]</text>
<text class="g" x="3" y="94">IsNestedBy</text><text class="g c" x="166" y="94">S[0:?]</text>
<text class="g" x="3" y="106">HasContext</text><text class="g c" x="166" y="106">S[0:1]</text>
<text class="g" x="3" y="118">IsDecomposedBy</text><text class="g c" x="166" y="118">S[0:?]</text>
<text class="g" x="3" y="130">Decomposes</text><text class="g c" x="166" y="130">S[0:1]</text>
<text class="g" x="3" y="142">HasAssociations</text><text class="g c" x="166" y="142">S[0:?]</text>
<text x="3" y="154">ObjectType</text><text class="c" x="166" y="154">[0:1]</text>
<text class="g" x="3" y="166">IsDeclaredBy</text><text class="g c" x="166" y="166">S[0:1]</text>
<text class="g" x="3" y="178">Declares</text><text class="g c" x="166" y="178">S[0:?]</text>
<text class="g" x="3" y="190">IsTypedBy</text><text class="g c" x="166" y="190">S[0:1]</text>
<text class="g" x="3" y="202">IsDefinedBy</text><text class="g c" x="166" y="202">S[0:?]</text>
<text x="3" y="214">ObjectPlacement</text><text class="c" x="166" y="214">[0:1]</text>
<text x="3" y="226">Representation</text><text class="c" x="166" y="226">[0:1]</text>
<text class="g" x="3" y="238">ReferencedBy</text><text class="g c" x="166" y="238">S[0:?]</text>
</g>

<g id="s9-IfcElementCompositionEnum" transform="translate(208,3148)"><rect class="hd" width="170" height="13"/><text class="tt" x="3" y="10">IfcElementCompositionEnum</text></g>
<g id="s11-IfcLengthMeasure" transform="translate(208,3228)"><rect class="hd" width="170" height="13"/><text class="tt" x="3" y="10">IfcLengthMeasure</text></g>

<g id="s12-IfcRelSpaceBoundary1stLevel" transform="translate(208,3284)"><rect class="bx" x="0.5" y="0.5" width="169" height="144"/><rect class="hd" width="170" height="13"/><text class="ht" x="3" y="10">IfcRelSpaceBoundary1stLevel</text>
<text x="3" y="22">GlobalId</text><text class="c" x="166" y="22">[1:1]</text>
<text x="3" y="34">OwnerHistory</text><text class="c" x="166" y="34">[0:1]</text>
<text x="3" y="46">Name</text><text class="c" x="166" y="46">[0:1]</text>
<text x="3" y="58">Description</text><text class="c" x="166" y="58">[0:1]</text>
<text x="3" y="70">RelatingSpace</text><text class="c" x="166" y="70">[1:1]</text>
<text x="3" y="82">RelatedBuildingElement</text><text class="c" x="166" y="82">[1:1]</text>
<text x="3" y="94">ConnectionGeometry</text><text class="c" x="166" y="94">[0:1]</text>
<text x="3" y="106">PhysicalOrVirtualBoundary</text><text class="c" x="166" y="106">[1:1]</text>
<text x="3" y="118">InternalOrExternalBoundary</text><text class="c" x="166" y="118">[1:1]</text>
<text x="3" y="130">ParentBoundary</text><text class="c" x="166" y="130">[0:1]</text>
<text class="g" x="3" y="142">InnerBoundaries</text><text class="g c" x="166" y="142">S[0:?]</text>
</g>

<g id="s12-IfcElement" transform="translate(408,3284)"><rect class="bx" x="0.5" y="0.5" width="169" height="396"/><rect class="ha" width="170" height="13"/><text class="ht" x="3" y="10">IfcElement</text>
<text x="3" y="22">GlobalId</text><text class="c" x="166" y="22">[1:1]</text>
<text x="3" y="34">OwnerHistory</text><text class="c" x="166" y="34">[0:1]</text>
<text x="3" y="46">Name</text><text class="c" x="166" y="46">[0:1]</text>
<text x="3" y="58">Description</text><text class="c" x="166" y="58">[0:1]</text>
<text class="g" x="3" y="70">HasAssignments</text><text class="g c" x="166" y="70">S[0:?]</text>
<text class="g" x="3" y="82">Nests</text><text class="g c" x="166" y="82">S[0:1]</text>
<text class="g" x="3" y="94">IsNestedBy</text><text class="g c" x="166" y="94">S[0:?]</text>
<text class="g" x="3" y="106">HasContext</text><text class="g c" x="166" y="106">S[0:1]</text>
<text class="g" x="3" y="118">IsDecomposedBy</text><text class="g c" x="166" y="118">S[0:?]</text>
<text class="g" x="3" y="130">Decomposes</text><text class="g c" x="166" y="130">S[0:1]</text>
<text class="g" x="3" y="142">HasAssociations</text><text class="g c" x="166" y="142">S[0:?]</text>
<text x="3" y="154">ObjectType</text><text class="c" x="166" y="154">[0:1]</text>
<text class="g" x="3" y="166">IsDeclaredBy</text><text class="g c" x="166" y="166">S[0:1]</text>
<text class="g" x="3" y="178">Declares</text><text class="g c" x="166" y="178">S[0:?]</text>
<text class="g" x="3" y="190">IsTypedBy</text><text class="g c" x="166" y="190">S[0:1]</text>
<text class="g" x="3" y="202">IsDefinedBy</text><text class="g c" x="166" y="202">S[0:?]</text>
<text x="3" y="214">ObjectPlacement</text><text class="c" x="166" y="214">[0:1]</text>
<text x="3" y="226">Representation</text><text class="c" x="166" y="226">[0:1]</text>
<text class="g" x="3" y="238">ReferencedBy</text><text class="g c" x="166" y="238">S[0:?]</text>
<text x="3" y="250">Tag</text><text class="c" x="166" y="250">[0:1]</text>
<text class="g" x="3" y="262">FillsVoids</text><text class="g c" x="166" y="262">S[0:1]</text>
<text class="g" x="3" y="274">ConnectedTo</text><text class="g c" x="166" y="274">S[0:?]</text>
<text class="g" x="3" y="286">IsInterferedByElements</text><text class="g c" x="166" y="286">S[0:?]</text>
<text class="g" x="3" y="298">InterferesElements</text><text class="g c" x="166" y="298">S[0:?]</text>
<text class="g" x="3" y="310">HasProjections</text><text class="g c" x="166" y="310">S[0:?]</text>
<text class="g" x="3" y="322">ReferencedInStructures</text><text class="g c" x="166" y="322">S[0:?]</text>
<text class="g" x="3" y="334">HasOpenings</text><text class="g c" x="166" y="334">S[0:?]</text>
<text class="g" x="3" y="346">IsConnectionRealization</text><text class="g c" x="166" y="346">S[0:?]</text>
<text class="g" x="3" y="358">ProvidesBoundaries</text><text class="g c" x="166" y="358">S[0:?]</text>
<text class="g" x="3" y="370">ConnectedFrom</text><text class="g c" x="166" y="370">S[0:?]</text>
<text class="g" x="3" y="382">ContainedInStructure</text><text class="g c" x="166" y="382">S[0:1]</text>
<text class="g" x="3" y="394">HasCoverings</text><text class="g c" x="166" y="394">S[0:?]</text>
</g>

<g id="s12-IfcConnectionSurfaceGeometry" transform="translate(408,3700)"><rect class="bx" x="0.5" y="0.5" width="169" height="36"/><rect class="hd" width="170" height="13"/><text class="ht" x="3" y="10">IfcConnectionSurfaceGeometry</text>
<text x="3" y="22">SurfaceOnRelatingElement</text><text class="c" x="166" y="22">[1:1]</text>
<text x="3" y="34">SurfaceOnRelatedElement</text><text class="c" x="166" y="34">[0:1]</text>
</g>
<g id="s12-IfcPhysicalOrVirtualEnum" transform="translate(408,3756)"><rect class="hd" width="170" height="13"/><text class="tt" x="3" y="10">IfcPhysicalOrVirtualEnum</text></g>
<g id="s12-IfcInternalOrExternalEnum" transform="translate(408,3788)"><rect class="hd" width="170" height="13"/><text class="tt" x="3" y="10">IfcInternalOrExternalEnum</text></g>

<g id="s12-IfcRelSpaceBoundary1stLevel-b" transform="translate(408,3820)"><rect class="bx" x="0.5" y="0.5" width="169" height="144"/><rect class="hd" width="170" height="13"/><text class="ht" x="3" y="10">IfcRelSpaceBoundary1stLevel</text>
<text x="3" y="22">GlobalId</text><text class="c" x="166" y="22">[1:1]</text>
<text x="3" y="34">OwnerHistory</text><text class="c" x="166" y="34">[0:1]</text>
<text x="3" y="46">Name</text><text class="c" x="166" y="46">[0:1]</text>
<text x="3" y="58">Description</text><text class="c" x="166" y="58">[0:1]</text>
<text x="3" y="70">RelatingSpace</text><text class="c" x="166" y="70">[1:1]</text>
<text x="3" y="82">RelatedBuildingElement</text><text class="c" x="166" y="82">[1:1]</text>
<text x="3" y="94">ConnectionGeometry</text><text class="c" x="166" y="94">[0:1]</text>
<text x="3" y="106">PhysicalOrVirtualBoundary</text><text class="c" x="166" y="106">[1:1]</text>
<text x="3" y="118">InternalOrExternalBoundary</text><text class="c" x="166" y="118">[1:1]</text>
<text x="3" y="130">ParentBoundary</text><text class="c" x="166" y="130">[0:1]</text>
<text class="g" x="3" y="142">InnerBoundaries</text><text class="g c" x="166" y="142">S[0:?]</text>
</g>

<g id="s12-IfcSurfaceOfLinearExtrusion" transform="translate(608,3284)"><rect class="bx" x="0.5" y="0.5" width="169" height="84"/><rect class="hd" width="170" height="13"/><text class="ht" x="3" y="10">IfcSurfaceOfLinearExtrusion</text>
<text class="g" x="3" y="22">LayerAssignment</text><text class="g c" x="166" y="22">S[0:1]</text>
<text class="g" x="3" y="34">StyledByItem</text><text class="g c" x="166" y="34">S[0:1]</text>
<text x="3" y="46">SweptCurve</text><text class="c" x="166" y="46">[1:1]</text>
<text x="3" y="58">Position</text><text class="c" x="166" y="58">[0:1]</text>
<text x="3" y="70">ExtrudedDirection</text><text class="c" x="166" y="70">[1:1]</text>
<text x="3" y="82">Depth</text><text class="c" x="166" y="82">[1:1]</text>
</g>
<g id="s12-IfcCurveBoundedPlane" transform="translate(608,3388)"><rect class="bx" x="0.5" y="0.5" width="169" height="72"/><rect class="hd" width="170" height="13"/><text class="ht" x="3" y="10">IfcCurveBoundedPlane</text>
<text class="g" x="3" y="22">LayerAssignment</text><text class="g c" x="166" y="22">S[0:1]</text>
<text class="g" x="3" y="34">StyledByItem</text><text class="g c" x="166" y="34">S[0:1]</text>
<text x="3" y="46">BasisSurface</text><text class="c" x="166" y="46">[1:1]</text>
<text x="3" y="58">OuterBoundary</text><text class="c" x="166" y="58">[1:1]</text>
<text x="3" y="70">InnerBoundaries</text><text class="c" x="166" y="70">S[0:?]</text>
</g>
<g id="s12-IfcCurveBoundedSurface" transform="translate(608,3480)"><rect class="bx" x="0.5" y="0.5" width="169" height="72"/><rect class="hd" width="170" height="13"/><text class="ht" x="3" y="10">IfcCurveBoundedSurface</text>
<text class="g" x="3" y="22">LayerAssignment</text><text class="g c" x="166" y="22">S[0:1]</text>
<text class="g" x="3" y="34">StyledByItem</text><text class="g c" x="166" y="34">S[0:1]</text>
<text x="3" y="46">BasisSurface</text><text class="c" x="166" y="46">[1:1]</text>
<text x="3" y="58">Boundaries</text><text class="c" x="166" y="58">S[1:?]</text>
<text x="3" y="70">ImplicitOuter</text><text class="c" x="166" y="70">[1:1]</text>
</g>
<g id="s12-IfcFaceBasedSurfaceModel" transform="translate(608,3572)"><rect class="bx" x="0.5" y="0.5" width="169" height="48"/><rect class="hd" width="170" height="13"/><text class="ht" x="3" y="10">IfcFaceBasedSurfaceModel</text>
<text class="g" x="3" y="22">LayerAssignment</text><text class="g c" x="166" y="22">S[0:1]</text>
<text class="g" x="3" y="34">StyledByItem</text><text class="g c" x="166" y="34">S[0:1]</text>
<text x="3" y="46">FbsmFaces</text><text class="c" x="166" y="46">S[1:?]</text>
</g>

<g id="s12-IfcArbitraryOpenProfileDef" transform="translate(808,3284)"><rect class="bx" x="0.5" y="0.5" width="169" height="72"/><rect class="hd" width="170" height="13"/><text class="ht" x="3" y="10">IfcArbitraryOpenProfileDef</text>
<text x="3" y="22">ProfileType</text><text class="c" x="166" y="22">[1:1]</text>
<text x="3" y="34">ProfileName</text><text class="c" x="166" y="34">[0:1]</text>
<text class="g" x="3" y="46">HasExternalReference</text><text class="g c" x="166" y="46">S[0:?]</text>
<text class="g" x="3" y="58">HasProperties</text><text class="g c" x="166" y="58">S[0:?]</text>
<text x="3" y="70">Curve</text><text class="c" x="166" y="70">[1:1]</text>
</g>
<g id="s12-IfcPlane" transform="translate(808,3376)"><rect class="bx" x="0.5" y="0.5" width="169" height="48"/><rect class="hd" width="170" height="13"/><text class="ht" x="3" y="10">IfcPlane</text>
<text class="g" x="3" y="22">LayerAssignment</text><text class="g c" x="166" y="22">S[0:1]</text>
<text class="g" x="3" y="34">StyledByItem</text><text class="g c" x="166" y="34">S[0:1]</text>
<text x="3" y="46">Position</text><text class="c" x="166" y="46">[1:1]</text>
</g>
<g id="s12-IfcCylindricalSurface" transform="translate(808,3444)"><rect class="bx" x="0.5" y="0.5" width="169" height="60"/><rect class="hd" width="170" height="13"/><text class="ht" x="3" y="10">IfcCylindricalSurface</text>
<text class="g" x="3" y="22">LayerAssignment</text><text class="g c" x="166" y="22">S[0:1]</text>
<text class="g" x="3" y="34">StyledByItem</text><text class="g c" x="166" y="34">S[0:1]</text>
<text x="3" y="46">Position</text><text class="c" x="166" y="46">[1:1]</text>
<text x="3" y="58">Radius</text><text class="c" x="166" y="58">[1:1]</text>
</g>
<g id="s12-IfcOuterBoundaryCurve" transform="translate(808,3524)"><rect class="bx" x="0.5" y="0.5" width="169" height="60"/><rect class="hd" width="170" height="13"/><text class="ht" x="3" y="10">IfcOuterBoundaryCurve</text>
<text class="g" x="3" y="22">LayerAssignment</text><text class="g c" x="166" y="22">S[0:1]</text>
<text class="g" x="3" y="34">StyledByItem</text><text class="g c" x="166" y="34">S[0:1]</text>
<text x="3" y="46">Segments</text><text class="c" x="166" y="46">L[1:?]</text>
<text x="3" y="58">SelfIntersect</text><text class="c" x="166" y="58">[1:1]</text>
</g>
<g id="s12-IfcBoolean-a" transform="translate(808,3604)"><rect class="hd" width="170" height="13"/><text class="tt" x="3" y="10">IfcBoolean</text></g>
<g id="s12-IfcOpenShell" transform="translate(808,3636)"><rect class="bx" x="0.5" y="0.5" width="169" height="48"/><rect class="hd" width="170" height="13"/><text class="ht" x="3" y="10">IfcOpenShell</text>
<text class="g" x="3" y="22">LayerAssignment</text><text class="g c" x="166" y="22">S[0:1]</text>
<text class="g" x="3" y="34">StyledByItem</text><text class="g c" x="166" y="34">S[0:1]</text>
<text x="3" y="46">CfsFaces</text><text class="c" x="166" y="46">S[1:?]</text>
</g>

<g id="s12-IfcIndexedPolyCurve" transform="translate(1008,3284)"><rect class="bx" x="0.5" y="0.5" width="169" height="72"/><rect class="hd" width="170" height="13"/><text class="ht" x="3" y="10">IfcIndexedPolyCurve</text>
<text class="g" x="3" y="22">LayerAssignment</text><text class="g c" x="166" y="22">S[0:1]</text>
<text class="g" x="3" y="34">StyledByItem</text><text class="g c" x="166" y="34">S[0:1]</text>
<text x="3" y="46">Points</text><text class="c" x="166" y="46">[1:1]</text>
<text x="3" y="58">Segments</text><text class="c" x="166" y="58">L[1:?]</text>
<text x="3" y="70">SelfIntersect</text><text class="c" x="166" y="70">[0:1]</text>
</g>
<g id="s12-IfcAxis2Placement3D-a" transform="translate(1008,3376)"><rect class="bx" x="0.5" y="0.5" width="169" height="72"/><rect class="hd" width="170" height="13"/><text class="ht" x="3" y="10">IfcAxis2Placement3D</text>
<text class="g" x="3" y="22">LayerAssignment</text><text class="g c" x="166" y="22">S[0:1]</text>
<text class="g" x="3" y="34">StyledByItem</text><text class="g c" x="166" y="34">S[0:1]</text>
<text x="3" y="46">Location</text><text class="c" x="166" y="46">[1:1]</text>
<text x="3" y="58">Axis</text><text class="c" x="166" y="58">[0:1]</text>
<text x="3" y="70">RefDirection</text><text class="c" x="166" y="70">[0:1]</text>
</g>
<g id="s12-IfcAxis2Placement3D-b" transform="translate(1008,3468)"><rect class="bx" x="0.5" y="0.5" width="169" height="72"/><rect class="hd" width="170" height="13"/><text class="ht" x="3" y="10">IfcAxis2Placement3D</text>
<text class="g" x="3" y="22">LayerAssignment</text><text class="g c" x="166" y="22">S[0:1]</text>
<text class="g" x="3" y="34">StyledByItem</text><text class="g c" x="166" y="34">S[0:1]</text>
<text x="3" y="46">Location</text><text class="c" x="166" y="46">[1:1]</text>
<text x="3" y="58">Axis</text><text class="c" x="166" y="58">[0:1]</text>
<text x="3" y="70">RefDirection</text><text class="c" x="166" y="70">[0:1]</text>
</g>
<g id="s12-IfcCompositeCurveSegment" transform="translate(1008,3560)"><rect class="bx" x="0.5" y="0.5" width="169" height="84"/><rect class="hd" width="170" height="13"/><text class="ht" x="3" y="10">IfcCompositeCurveSegment</text>
<text class="g" x="3" y="22">LayerAssignment</text><text class="g c" x="166" y="22">S[0:1]</text>
<text class="g" x="3" y="34">StyledByItem</text><text class="g c" x="166" y="34">S[0:1]</text>
<text x="3" y="46">Transition</text><text class="c" x="166" y="46">[1:1]</text>
<text x="3" y="58">SameSense</text><text class="c" x="166" y="58">[1:1]</text>
<text x="3" y="70">ParentCurve</text><text class="c" x="166" y="70">[1:1]</text>
<text class="g" x="3" y="82">UsingCurves</text><text class="g c" x="166" y="82">S[1:?]</text>
</g>
<g id="s12-IfcFace" transform="translate(1008,3664)"><rect class="bx" x="0.5" y="0.5" width="169" height="60"/><rect class="hd" width="170" height="13"/><text class="ht" x="3" y="10">IfcFace</text>
<text class="g" x="3" y="22">LayerAssignment</text><text class="g c" x="166" y="22">S[0:1]</text>
<text class="g" x="3" y="34">StyledByItem</text><text class="g c" x="166" y="34">S[0:1]</text>
<text x="3" y="46">Bounds</text><text class="c" x="166" y="46">S[1:?]</text>
<text class="g" x="3" y="58">HasTextureMaps</text><text class="g c" x="166" y="58">S[0:?]</text>
</g>

<g id="s12-IfcCartesianPointList2D" transform="translate(1208,3284)"><rect class="bx" x="0.5" y="0.5" width="169" height="48"/><rect class="hd" width="170" height="13"/><text class="ht" x="3" y="10">IfcCartesianPointList2D</text>
<text class="g" x="3" y="22">LayerAssignment</text><text class="g c" x="166" y="22">S[0:1]</text>
<text class="g" x="3" y="34">StyledByItem</text><text class="g c" x="166" y="34">S[0:1]</text>
<text x="3" y="46">CoordList</text><text class="c" x="166" y="46">L[1:?]</text>
</g>
<g id="s12-IfcArcIndex" transform="translate(1208,3352)"><rect class="hd" width="170" height="13"/><text class="tt" x="3" y="10">IfcArcIndex</text></g>
<g id="s12-IfcLineIndex" transform="translate(1208,3384)"><rect class="hd" width="170" height="13"/><text class="tt" x="3" y="10">IfcLineIndex</text></g>
<g id="s12-IfcBoolean-b" transform="translate(1208,3416)"><rect class="hd" width="170" height="13"/><text class="tt" x="3" y="10">IfcBoolean</text></g>
<g id="s12-IfcFaceOuterBound" transform="translate(1208,3448)"><rect class="bx" x="0.5" y="0.5" width="169" height="60"/><rect class="hd" width="170" height="13"/><text class="ht" x="3" y="10">IfcFaceOuterBound</text>
<text class="g" x="3" y="22">LayerAssignment</text><text class="g c" x="166" y="22">S[0:1]</text>
<text class="g" x="3" y="34">StyledByItem</text><text class="g c" x="166" y="34">S[0:1]</text>
<text x="3" y="46">Bound</text><text class="c" x="166" y="46">[1:1]</text>
<text x="3" y="58">Orientation</text><text class="c" x="166" y="58">[1:1]</text>
</g>
<g id="s12-IfcLengthMeasure" transform="translate(1408,3284)"><rect class="hd" width="170" height="13"/><text class="tt" x="3" y="10">IfcLengthMeasure</text></g>
</svg>
